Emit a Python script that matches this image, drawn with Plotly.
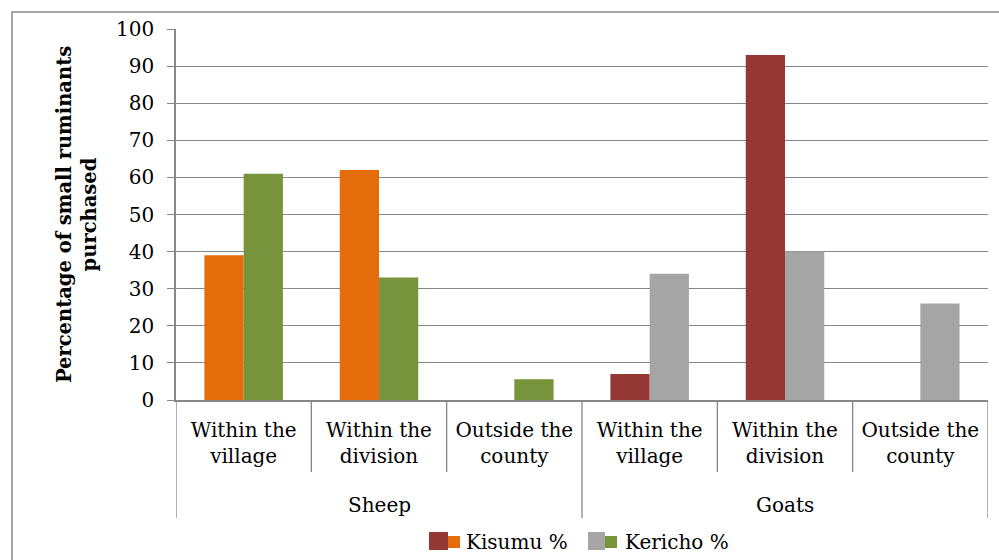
import plotly.graph_objects as go

# Purchase locations, grouped by animal
groups = ["Sheep", "Goats"]
locations = ["Within the village", "Within the division", "Outside the county"]
location_labels = ["Within the<br>village", "Within the<br>division", "Outside the<br>county"]

# Percentage of small ruminants purchased
kisumu_sheep = [39, 62, None]
kericho_sheep = [61, 33, 5.6]
kisumu_goats = [7, 93, None]
kericho_goats = [34, 40, 26]

y_ticks = list(range(0, 101, 10))

W, H = 999, 560
ML, MR, MT, MB = 176, 11, 29, 160
PW, PH = W - ML - MR, H - MT - MB

FONT = "DejaVu Serif, Liberation Serif, serif"
GRID = "#878787"


def px(x):
    return (x - ML) / PW


def py(y):
    return (H - MB - y) / PH


cats = [f"{g}|{loc}" for g in groups for loc in locations]
sheep_x = cats[:3]
goats_x = cats[3:]

fig = go.Figure()
fig.add_bar(x=sheep_x, y=kisumu_sheep, name="Kisumu % (sheep)", offsetgroup="kisumu",
            marker=dict(color="#E46C0A", line=dict(width=0)), showlegend=False)
fig.add_bar(x=sheep_x, y=kericho_sheep, name="Kericho % (sheep)", offsetgroup="kericho",
            marker=dict(color="#77933C", line=dict(width=0)), showlegend=False)
fig.add_bar(x=goats_x, y=kisumu_goats, name="Kisumu % (goats)", offsetgroup="kisumu",
            marker=dict(color="#953735", line=dict(width=0)), showlegend=False)
fig.add_bar(x=goats_x, y=kericho_goats, name="Kericho % (goats)", offsetgroup="kericho",
            marker=dict(color="#A5A5A5", line=dict(width=0)), showlegend=False)

shapes = []
# Category separators below the axis: short between locations, long between animals
n = len(cats)
for i in range(n + 1):
    xb = i - 0.5
    long_line = i % len(locations) == 0
    shapes.append(dict(type="line", xref="x", yref="paper", x0=xb, x1=xb,
                       y0=0, y1=py(518) if long_line else py(472),
                       line=dict(color=GRID, width=1.3)))

# Outer chart frame
shapes.append(dict(type="rect", xref="paper", yref="paper",
                   x0=px(12), x1=px(1012), y0=py(572), y1=py(12),
                   line=dict(color="#8A8A8A", width=1.5), fillcolor="rgba(0,0,0,0)",
                   layer="below"))

# Legend swatches
def swatch(x0, x1, y0, y1, color):
    return dict(type="rect", xref="paper", yref="paper",
                x0=px(x0), x1=px(x1), y0=py(y1), y1=py(y0),
                line=dict(width=0), fillcolor=color)

shapes += [
    swatch(447, 460, 536, 548, "#E46C0A"),
    swatch(429, 448, 532, 550, "#953735"),
    swatch(604, 617, 536, 548, "#77933C"),
    swatch(588, 605, 532, 550, "#A5A5A5"),
]

annotations = []
for gi, g in enumerate(groups):
    annotations.append(dict(text=g, xref="x", yref="paper",
                            x=gi * len(locations) + (len(locations) - 1) / 2,
                            y=py(505), showarrow=False, xanchor="center", yanchor="middle",
                            font=dict(family=FONT, size=20, color="#000")))
annotations.append(dict(text="Kisumu %", xref="paper", yref="paper", x=px(464), y=py(542),
                        showarrow=False, xanchor="left", yanchor="middle",
                        font=dict(family=FONT, size=20, color="#000")))
annotations.append(dict(text="Kericho %", xref="paper", yref="paper", x=px(623), y=py(542),
                        showarrow=False, xanchor="left", yanchor="middle",
                        font=dict(family=FONT, size=20, color="#000")))

fig.update_layout(
    width=W, height=H,
    margin=dict(l=ML, r=MR, t=MT, b=MB, pad=0),
    paper_bgcolor="white", plot_bgcolor="white",
    barmode="group", bargap=0.42, bargroupgap=0,
    font=dict(family=FONT, size=20, color="#000"),
    shapes=shapes, annotations=annotations,
    xaxis=dict(type="category", categoryorder="array", categoryarray=cats,
               tickmode="array", tickvals=cats, ticktext=location_labels * len(groups),
               range=[-0.5, n - 0.5], showgrid=False, ticks="",
               showline=True, linecolor=GRID, linewidth=1.5,
               tickfont=dict(family=FONT, size=20, color="#000"),
               ticklabelstandoff=11, zeroline=False),
    yaxis=dict(range=[0, 100], tickmode="array", tickvals=y_ticks,
               showgrid=True, gridcolor=GRID, gridwidth=1.3,
               showline=True, linecolor=GRID, linewidth=1.5,
               ticks="outside", ticklen=7, tickcolor=GRID, tickwidth=1.3,
               tickfont=dict(family=FONT, size=20, color="#000"),
               ticklabelstandoff=9, zeroline=False,
               title=dict(text="<b>Percentage of small ruminants<br>purchased</b>",
                          standoff=14,
                          font=dict(family=FONT, size=19.5, color="#000"))),
)

fig.write_html("out.html")
